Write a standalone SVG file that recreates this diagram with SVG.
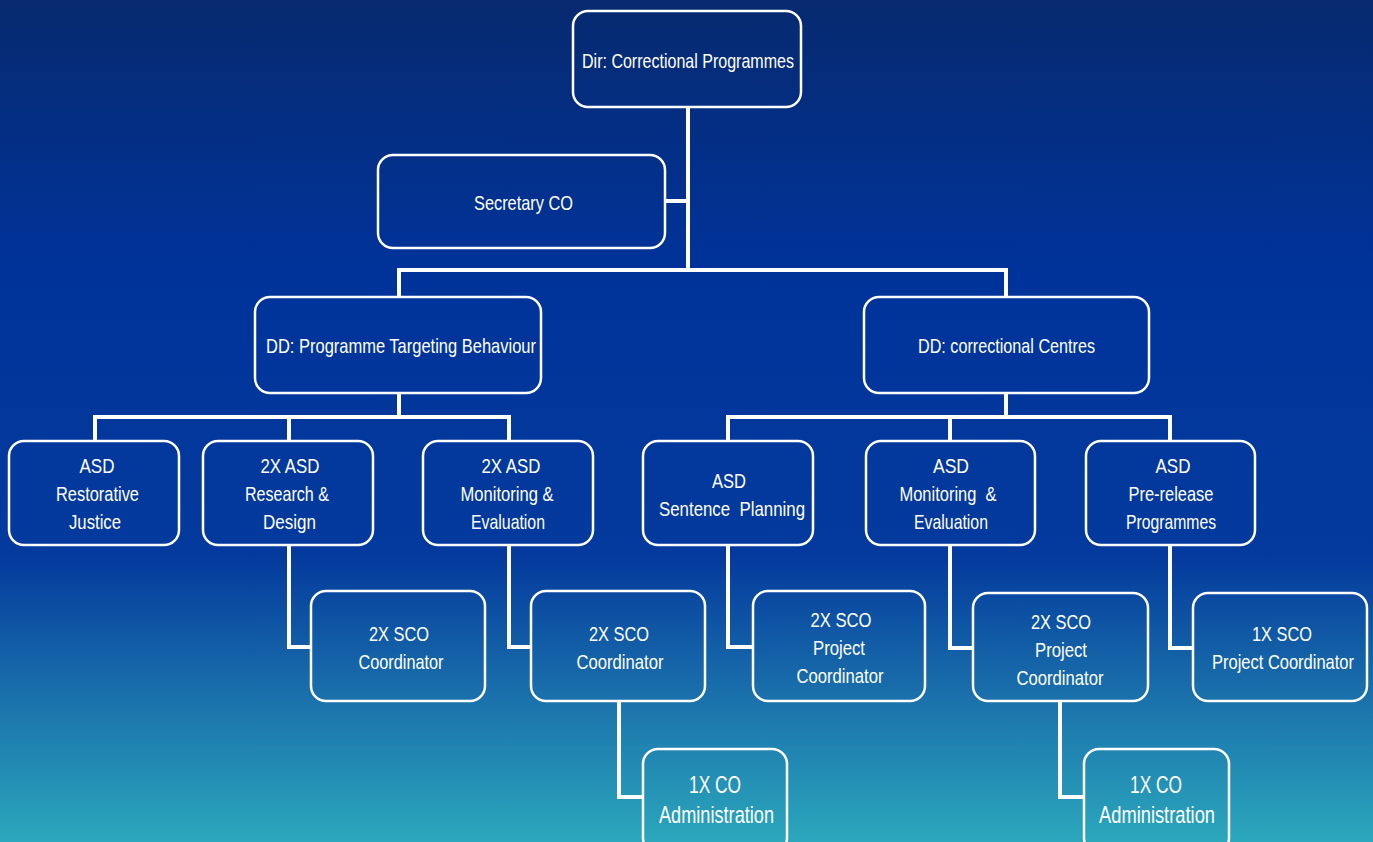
<svg xmlns="http://www.w3.org/2000/svg" width="1373" height="842" viewBox="0 0 1373 842">
<defs>
<linearGradient id="bg" x1="0" y1="0" x2="0" y2="1">
<stop offset="0" stop-color="#072a6f"/>
<stop offset="0.32" stop-color="#00339a"/>
<stop offset="0.66" stop-color="#043a9d"/>
<stop offset="0.85" stop-color="#1d78ad"/>
<stop offset="1" stop-color="#2ba7bc"/>
</linearGradient>
<style>
.box{fill:none;stroke:#fff;stroke-width:2.5}
.con{fill:none;stroke:#fff;stroke-width:4;stroke-linejoin:miter;stroke-linecap:butt}
text{font-family:"Liberation Sans",Arial,sans-serif;font-size:21px;fill:#fff;text-anchor:middle}
.big{font-size:24px}
</style>
</defs>
<rect x="0" y="0" width="1373" height="842" fill="url(#bg)"/>
<g id="connectors">
<path class="con" d="M688,107 V270 M665,201 H688 M399,297 V270 H1006 V297"/>
<path class="con" d="M399,393 V417 M95,441 V417 H509 V441 M289,417 V441"/>
<path class="con" d="M1006,393 V417 M728,441 V417 H1170 V441 M950,417 V441"/>
<path class="con" d="M289,545 V647 H311 M509,545 V647 H531 M619,701 V797 H643"/>
<path class="con" d="M728,545 V647 H753 M950,545 V648 H973 M1170,545 V648 H1193 M1060,701 V797 H1084"/>
</g>
<g id="dir"><rect class="box" x="573" y="11" width="228" height="96" rx="15"/><text x="688" y="67.5" textLength="212" lengthAdjust="spacingAndGlyphs">Dir: Correctional Programmes</text></g>
<g id="secretary"><rect class="box" x="378" y="155" width="287" height="93" rx="15"/><text x="523.5" y="209.5" textLength="99" lengthAdjust="spacingAndGlyphs">Secretary CO</text></g>
<g id="dd-ptb"><rect class="box" x="255" y="297" width="286" height="96" rx="15"/><text x="401" y="352.5" textLength="270" lengthAdjust="spacingAndGlyphs">DD: Programme Targeting Behaviour</text></g>
<g id="dd-cc"><rect class="box" x="864" y="297" width="285" height="96" rx="15"/><text x="1006.5" y="352.5" textLength="177" lengthAdjust="spacingAndGlyphs">DD: correctional Centres</text></g>
<g id="asd-rj"><rect class="box" x="9" y="441" width="170" height="104" rx="15"/>
<text x="97" y="472.5" textLength="35" lengthAdjust="spacingAndGlyphs">ASD</text>
<text x="97.5" y="500.5" textLength="83" lengthAdjust="spacingAndGlyphs">Restorative</text>
<text x="95" y="528.5" textLength="52" lengthAdjust="spacingAndGlyphs">Justice</text></g>
<g id="asd-rd"><rect class="box" x="203" y="441" width="170" height="104" rx="15"/>
<text x="290" y="472.5" textLength="59" lengthAdjust="spacingAndGlyphs">2X ASD</text>
<text x="287" y="500.5" textLength="84" lengthAdjust="spacingAndGlyphs">Research &amp;</text>
<text x="289.5" y="528.5" textLength="53" lengthAdjust="spacingAndGlyphs">Design</text></g>
<g id="asd-me1"><rect class="box" x="423" y="441" width="170" height="104" rx="15"/>
<text x="511" y="472.5" textLength="59" lengthAdjust="spacingAndGlyphs">2X ASD</text>
<text x="507" y="500.5" textLength="93" lengthAdjust="spacingAndGlyphs">Monitoring &amp;</text>
<text x="508" y="528.5" textLength="74" lengthAdjust="spacingAndGlyphs">Evaluation</text></g>
<g id="asd-sp"><rect class="box" x="643" y="441" width="170" height="104" rx="15"/>
<text x="729" y="487.5" textLength="34" lengthAdjust="spacingAndGlyphs">ASD</text>
<text x="732" y="515.5" textLength="146" lengthAdjust="spacingAndGlyphs" xml:space="preserve">Sentence  Planning</text></g>
<g id="asd-me2"><rect class="box" x="866" y="441" width="169" height="104" rx="15"/>
<text x="951" y="472.5" textLength="36" lengthAdjust="spacingAndGlyphs">ASD</text>
<text x="948" y="500.5" textLength="97" lengthAdjust="spacingAndGlyphs" xml:space="preserve">Monitoring  &amp;</text>
<text x="951" y="528.5" textLength="74" lengthAdjust="spacingAndGlyphs">Evaluation</text></g>
<g id="asd-pr"><rect class="box" x="1086" y="441" width="169" height="104" rx="15"/>
<text x="1173" y="472.5" textLength="35" lengthAdjust="spacingAndGlyphs">ASD</text>
<text x="1171" y="500.5" textLength="85" lengthAdjust="spacingAndGlyphs">Pre-release</text>
<text x="1171" y="528.5" textLength="90" lengthAdjust="spacingAndGlyphs">Programmes</text></g>
<g id="sco-rd"><rect class="box" x="311" y="591" width="174" height="110" rx="15"/>
<text x="399" y="640.5" textLength="60" lengthAdjust="spacingAndGlyphs">2X SCO</text>
<text x="401" y="668.5" textLength="85" lengthAdjust="spacingAndGlyphs">Coordinator</text></g>
<g id="sco-me"><rect class="box" x="531" y="591" width="174" height="110" rx="15"/>
<text x="619" y="640.5" textLength="60" lengthAdjust="spacingAndGlyphs">2X SCO</text>
<text x="620" y="668.5" textLength="87" lengthAdjust="spacingAndGlyphs">Coordinator</text></g>
<g id="co-admin1"><rect class="box" x="643" y="749" width="144" height="104" rx="15"/>
<text class="big" x="715" y="792.5" textLength="52" lengthAdjust="spacingAndGlyphs">1X CO</text>
<text class="big" x="716.5" y="822.5" textLength="115" lengthAdjust="spacingAndGlyphs">Administration</text></g>
<g id="sco-pc1"><rect class="box" x="753" y="591" width="172" height="110" rx="15"/>
<text x="841" y="626.5" textLength="61" lengthAdjust="spacingAndGlyphs">2X SCO</text>
<text x="839" y="654.5" textLength="52" lengthAdjust="spacingAndGlyphs">Project</text>
<text x="840" y="682.5" textLength="87" lengthAdjust="spacingAndGlyphs">Coordinator</text></g>
<g id="sco-pc2"><rect class="box" x="973" y="593" width="175" height="108" rx="15"/>
<text x="1061" y="628.5" textLength="60" lengthAdjust="spacingAndGlyphs">2X SCO</text>
<text x="1061" y="656.5" textLength="52" lengthAdjust="spacingAndGlyphs">Project</text>
<text x="1060" y="684.5" textLength="87" lengthAdjust="spacingAndGlyphs">Coordinator</text></g>
<g id="sco-pc3"><rect class="box" x="1193" y="593" width="174" height="108" rx="15"/>
<text x="1282" y="640.5" textLength="60" lengthAdjust="spacingAndGlyphs">1X SCO</text>
<text x="1283" y="668.5" textLength="142" lengthAdjust="spacingAndGlyphs">Project Coordinator</text></g>
<g id="co-admin2"><rect class="box" x="1084" y="749" width="145" height="104" rx="15"/>
<text class="big" x="1156" y="792.5" textLength="52" lengthAdjust="spacingAndGlyphs">1X CO</text>
<text class="big" x="1157" y="822.5" textLength="116" lengthAdjust="spacingAndGlyphs">Administration</text></g>
</svg>
